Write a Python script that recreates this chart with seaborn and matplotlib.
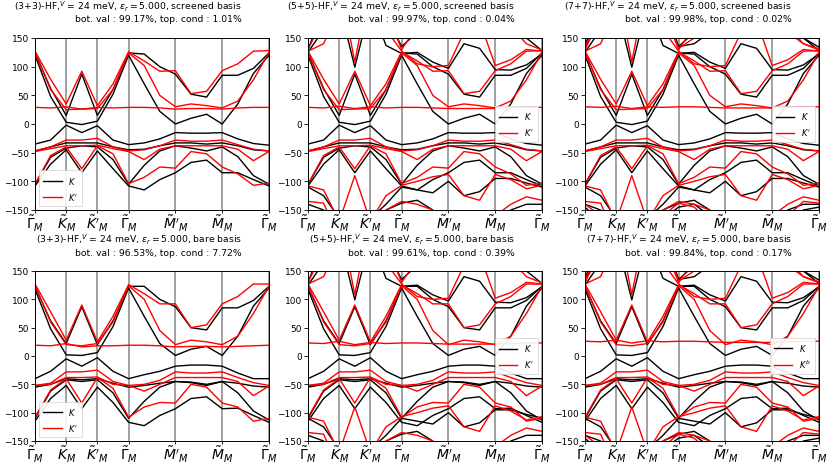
import numpy as np
import pandas as pd
import matplotlib
matplotlib.use("Agg")
import matplotlib.pyplot as plt
import seaborn as sns

# k-path: 16 points, high-symmetry points at these indices
k_index = list(range(16))
tick_pos = [0, 2, 4, 6, 9, 12, 15]
tick_labels = [r'$\tilde{\Gamma}_M$', r'$\tilde{K}_M$', r"$\tilde{K}'_M$", r'$\tilde{\Gamma}_M$',
               r"$\tilde{M}'_M$", r'$\tilde{M}_M$', r'$\tilde{\Gamma}_M$']

# ---- central bands, screened basis (K valley, black) ----
k_scr = [
    [125, 62, 15, 87, 15, 60, 124, 122, 100, 87, 52, 47, 85, 85, 97, 124],
    [120, 48, 3, -1, 5, 52, 120, 70, 22, 0, 10, 17, 0, 35, 88, 120],
    [-35, -28, -2, -15, -3, -28, -36, -33, -26, -15, -16, -16, -15, -26, -34, -37],
    [-47, -40, -33, -33, -33, -40, -45, -44, -38, -33, -33, -35, -33, -38, -45, -47],
    [-105, -58, -42, -38, -40, -62, -105, -72, -47, -38, -42, -47, -40, -57, -90, -105],
    [-108, -70, -45, -85, -47, -78, -108, -115, -97, -85, -67, -63, -85, -85, -97, -108],
]
# K' valley, red
kp_scr = [
    [127, 78, 35, 92, 32, 70, 126, 110, 92, 93, 53, 57, 93, 105, 127, 128],
    [124, 60, 25, 26, 27, 60, 124, 102, 50, 30, 35, 32, 28, 40, 77, 125],
    [-47, -40, -28, -28, -25, -40, -47, -45, -38, -28, -30, -30, -28, -36, -44, -47],
    [-48, -43, -38, -38, -37, -43, -48, -62, -44, -38, -38, -38, -38, -44, -64, -48],
    [-105, -55, -40, -78, -38, -52, -104, -93, -75, -77, -48, -52, -75, -87, -107, -103],
]

# ---- central bands, bare basis ----
k_bare = [
    [123, 62, 22, 87, 20, 62, 123, 123, 100, 87, 50, 46, 85, 85, 98, 123],
    [118, 48, 2, 1, 6, 52, 120, 70, 22, 1, 12, 17, 1, 35, 88, 120],
    [-40, -27, -5, -18, -3, -27, -40, -33, -27, -18, -16, -16, -18, -30, -40, -40],
    [-55, -50, -40, -42, -40, -48, -55, -52, -48, -45, -46, -50, -45, -48, -53, -55],
    [-110, -62, -42, -45, -42, -65, -110, -80, -55, -45, -47, -52, -45, -65, -97, -113],
    [-115, -75, -52, -93, -55, -82, -117, -123, -105, -93, -75, -72, -93, -92, -105, -117],
]
kp_bare = [
    [127, 78, 28, 90, 25, 70, 126, 110, 92, 92, 50, 55, 92, 105, 127, 127],
    [124, 60, 20, 18, 22, 60, 124, 100, 45, 20, 28, 25, 20, 35, 75, 123],
    [-52, -48, -28, -28, -25, -45, -52, -50, -43, -28, -30, -30, -28, -38, -47, -52],
    [-52, -50, -38, -38, -37, -50, -52, -62, -50, -38, -38, -38, -38, -45, -70, -53],
    [-108, -60, -40, -83, -38, -57, -108, -90, -82, -83, -50, -55, -83, -90, -115, -110],
]

# flat K' band, one per panel
flat_33_scr = [29, 28, 30, 26, 29, 28, 29, 29, 28, 26, 27, 27, 26, 28, 29, 29]
flat_55_scr = [29, 28, 31, 27, 30, 28, 29, 29, 28, 27, 27, 27, 27, 28, 29, 29]
flat_77_scr = [30, 29, 31, 27, 30, 29, 30, 30, 29, 28, 28, 28, 28, 29, 30, 30]
flat_33_bare = [19, 18, 22, 16, 18, 18, 19, 19, 18, 16, 17, 17, 16, 17, 18, 19]
flat_55_bare = [23, 22, 26, 20, 24, 22, 23, 23, 22, 21, 21, 21, 21, 22, 23, 23]
flat_77_bare = [26, 25, 28, 23, 27, 25, 26, 26, 25, 24, 24, 24, 24, 25, 26, 26]

# ---- remote bands added by the (5+5) basis ----
k_extra5 = [
    [125, 165, 210, 99, 210, 137, 123, 125, 108, 97, 140, 132, 95, 94, 103, 122],
    [130, 200, 260, 200, 260, 190, 135, 160, 200, 230, 200, 200, 220, 190, 150, 128],
    [-110, -125, -165, -160, -165, -140, -110, -115, -120, -100, -125, -118, -95, -95, -103, -110],
    [-140, -150, -200, -230, -200, -150, -138, -133, -150, -180, -200, -200, -175, -150, -140, -140],
]
kp_extra5 = [
    [127, 140, 200, 150, 200, 165, 127, 105, 100, 102, 160, 180, 102, 112, 130, 127],
    [130, 185, 250, 108, 250, 200, 130, 170, 210, 240, 210, 220, 200, 170, 140, 129],
    [-108, -115, -170, -90, -170, -125, -107, -100, -92, -88, -125, -133, -88, -97, -113, -107],
    [-135, -138, -200, -250, -200, -150, -135, -140, -150, -190, -200, -190, -160, -140, -127, -133],
]
# ---- remote bands added by the (7+7) basis ----
k_extra7 = [
    [135, 220, 280, 230, 280, 220, 135, 140, 160, 190, 230, 230, 190, 170, 150, 134],
    [-145, -170, -220, -260, -220, -165, -145, -140, -160, -200, -230, -230, -200, -170, -150, -145],
]
kp_extra7 = [
    [133, 200, 270, 240, 270, 210, 132, 150, 170, 200, 240, 240, 200, 160, 140, 131],
    [-140, -160, -230, -260, -230, -160, -138, -145, -170, -210, -240, -230, -190, -160, -135, -138],
]

titles = [
    r"(3+3)-HF,$^V$ = 24 meV, $\epsilon_r = 5.000$, screened basis" + "\n bot. val : 99.17%, top. cond : 1.01%",
    r"(5+5)-HF,$^V$ = 24 meV, $\epsilon_r = 5.000$, screened basis" + "\n bot. val : 99.97%, top. cond : 0.04%",
    r"(7+7)-HF,$^V$ = 24 meV, $\epsilon_r = 5.000$, screened basis" + "\n bot. val : 99.98%, top. cond : 0.02%",
    r"(3+3)-HF,$^V$ = 24 meV, $\epsilon_r = 5.000$, bare basis" + "\n bot. val : 96.53%, top. cond : 7.72%",
    r"(5+5)-HF,$^V$ = 24 meV, $\epsilon_r = 5.000$, bare basis" + "\n bot. val : 99.61%, top. cond : 0.39%",
    r"(7+7)-HF,$^V$ = 24 meV, $\epsilon_r = 5.000$, bare basis" + "\n bot. val : 99.84%, top. cond : 0.17%",
]

panels = [
    (k_scr, kp_scr + [flat_33_scr], [], [], r'$K^\prime$', 'lower left'),
    (k_scr, kp_scr + [flat_55_scr], k_extra5, kp_extra5, r'$K^\prime$', 'center right'),
    (k_scr, kp_scr + [flat_77_scr], k_extra5 + k_extra7, kp_extra5 + kp_extra7, r'$K^\prime$', 'center right'),
    (k_bare, kp_bare + [flat_33_bare], [], [], r'$K^\prime$', 'lower left'),
    (k_bare, kp_bare + [flat_55_bare], k_extra5, kp_extra5, r'$K^\prime$', 'center right'),
    (k_bare, kp_bare + [flat_77_bare], k_extra5 + k_extra7, kp_extra5 + kp_extra7, r'$K^b$', 'center right'),
]

W, H = 830, 464
fig = plt.figure(figsize=(W / 100, H / 100), dpi=100)
lefts = [35, 308, 585]
rows = [(39, 211), (272, 442)]

for i, (kb, kpb, kx, kpx, kp_label, leg_loc) in enumerate(panels):
    r, c = divmod(i, 3)
    top, bot = rows[r]
    ax = fig.add_axes([lefts[c] / W, 1 - bot / H, 234 / W, (bot - top) / H])

    recs = []
    for j, band in enumerate(kb + kx):
        for k, e in zip(k_index, band):
            recs.append((k, e, f'K{j}', '$K$'))
    for j, band in enumerate(kpb + kpx):
        for k, e in zip(k_index, band):
            recs.append((k, e, f'P{j}', kp_label))
    df = pd.DataFrame(recs, columns=['k', 'E', 'band', 'valley'])

    for t in tick_pos:
        ax.axvline(t, color='gray', lw=1.3, alpha=0.8, zorder=0)

    sns.lineplot(data=df, x='k', y='E', units='band', hue='valley', estimator=None,
                 palette={'$K$': 'black', kp_label: 'red'}, lw=1.0, ax=ax)

    ax.set_xlim(0, 15)
    ax.set_ylim(-150, 150)
    ax.set_xticks(tick_pos)
    ax.set_xticklabels(tick_labels, fontsize=10)
    ax.set_yticks([-150, -100, -50, 0, 50, 100, 150])
    ax.tick_params(axis='y', labelsize=6.5, length=3, width=0.6, pad=1.5)
    ax.tick_params(axis='x', length=2, width=0.6, pad=0)
    ax.set_xlabel('')
    ax.set_ylabel('')
    for s in ax.spines.values():
        s.set_linewidth(0.7)

    leg = ax.legend(loc=leg_loc, fontsize=6, handlelength=2.2, borderpad=0.5,
                    labelspacing=0.6, fancybox=False, framealpha=0.9)
    leg.get_frame().set_linewidth(0.5)

    ax.text(0.885, 1.085, titles[i], transform=ax.transAxes, ha='right', va='bottom',
            multialignment='right', fontsize=6.7, linespacing=1.25)

fig.savefig('out.png', dpi=100)
